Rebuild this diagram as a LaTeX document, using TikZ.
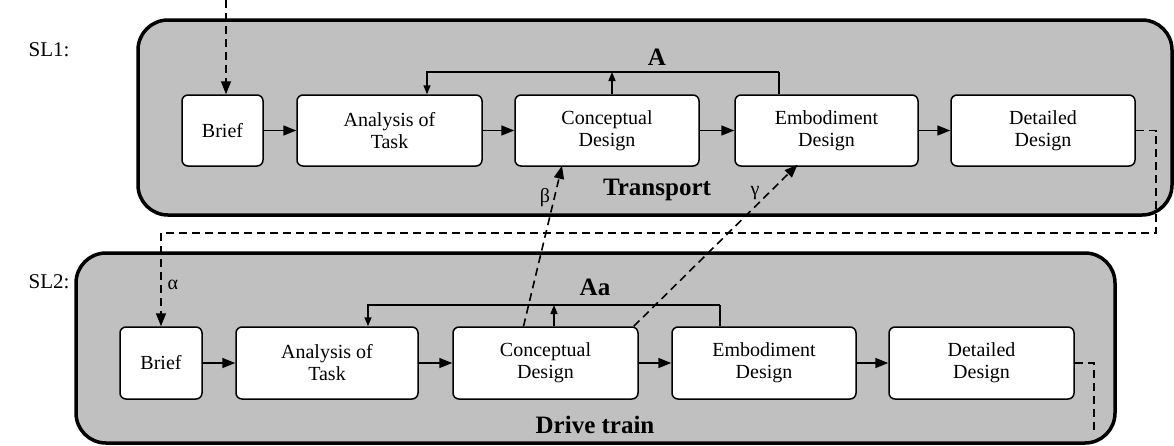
\documentclass[tikz,border=0pt]{standalone}
\usepackage{fontspec}
\setmainfont{Liberation Serif}
\usetikzlibrary{arrows.meta,calc}
\definecolor{panelgray}{RGB}{192,192,192}
\begin{document}
\begin{tikzpicture}[x=1pt,y=-1pt,
  panel/.style={draw=black,line width=3.5pt,fill=panelgray,rounded corners=30pt},
  stage/.style={draw=black,line width=1.5pt,fill=white,rounded corners=6pt,
    minimum height=71pt,inner sep=0pt,align=center,
    font=\fontsize{20}{22}\selectfont},
  flow/.style={line width=1.6pt,-{Triangle[length=13pt,width=10pt]}},
  fb/.style={line width=1.5pt},
  fbarrow/.style={line width=1.5pt,-{Triangle[length=9pt,width=7pt]}},
  dashline/.style={line width=1.6pt,dash pattern=on 8pt off 5pt},
  dasharrow/.style={dashline,-{Triangle[length=13pt,width=10pt]}},
  lvl/.style={font=\fontsize{21}{22}\selectfont},
  title/.style={font=\bfseries\fontsize{25}{26}\selectfont},
  greek/.style={font=\fontsize{20}{20}\selectfont}
]
\useasboundingbox (0,0) rectangle (1174,445);
% panels
\node[panel,minimum width=1034pt,minimum height=195pt] (p1) at (655,117.5) {};
\node[panel,minimum width=1039pt,minimum height=190pt] (p2) at (595.5,348) {};
% level labels
\node[lvl] (sl1) at (49,50) {SL1:};
\node[lvl] (sl2) at (49,282) {SL2:};
% top row
\node[stage,minimum width=81pt]  (b1) at (222.5,130.5) {Brief};
\node[stage,minimum width=185pt] (a1) at (389.5,130.5) {Analysis of\\Task};
\node[stage,minimum width=184pt] (c1) at (607,130.5) {Conceptual\\Design};
\node[stage,minimum width=183pt] (e1) at (826.5,130.5) {Embodiment\\Design};
\node[stage,minimum width=184pt] (d1) at (1043,130.5) {Detailed\\Design};
% bottom row
\node[stage,minimum width=82pt,minimum height=72pt]  (b2) at (161,363) {Brief};
\node[stage,minimum width=182pt,minimum height=72pt] (a2) at (327,363) {Analysis of\\Task};
\node[stage,minimum width=185pt,minimum height=72pt] (c2) at (545.5,363) {Conceptual\\Design};
\node[stage,minimum width=184pt,minimum height=72pt] (e2) at (764,363) {Embodiment\\Design};
\node[stage,minimum width=185pt,minimum height=72pt] (d2) at (981.5,363) {Detailed\\Design};
% titles
\node[title] (tA) at (657,57) {A};
\node[title] (tT) at (657,190) {Transport};
\node[title] (tAa) at (595,287) {Aa};
\node[title] (tD) at (595,425) {Drive train};
% flow arrows
\draw[flow] (b1) -- (a1);
\draw[flow] (a1) -- (c1);
\draw[flow] (c1) -- (e1);
\draw[flow] (e1) -- (d1);
\draw[flow] (b2) -- (a2);
\draw[flow] (a2) -- (c2);
\draw[flow] (c2) -- (e2);
\draw[flow] (e2) -- (d2);
% feedback loops
\coordinate (f1a) at (779,72);
\coordinate (f1b) at (427,72);
\coordinate (f1c) at (612,72);
\draw[fb] ([xshift=-47.5pt]e1.north) -- (f1a);
\draw[fbarrow] (f1a) -- (f1b) -- (f1b |- a1.north);
\draw[fbarrow] ([xshift=5pt]c1.north) -- (f1c);
\coordinate (f2a) at (720,305);
\coordinate (f2b) at (368,305);
\coordinate (f2c) at (554,305);
\draw[fb] ([xshift=-44pt]e2.north) -- (f2a);
\draw[fbarrow] (f2a) -- (f2b) -- (f2b |- a2.north);
\draw[fbarrow] ([xshift=8.5pt]c2.north) -- (f2c);
% dashed connections
\coordinate (in1) at (226,0);
\draw[dasharrow] (in1) -- (in1 |- b1.north);
\coordinate (r1) at (1156,130.5);
\coordinate (r2) at (1156,233);
\coordinate (r3) at (161,233);
\draw[dasharrow] (d1.east) -- (r1) -- (r2) -- (r3) -- (b2.north);
\node[greek,anchor=west] (alpha) at (164,285) {α};
\coordinate (s1) at (1094,363);
\coordinate (s2) at (1094,433);
\draw[dashline] (d2.east) -- (s1) -- (s2);
\draw[dasharrow] ([xshift=-22pt]c2.north) -- ([xshift=-45pt,yshift=1pt]c1.south);
\node[greek] (beta) at (545,198) {β};
\draw[dasharrow] ([xshift=-5pt]c2.north east) -- ([xshift=-29pt,yshift=2pt]e1.south);
\node[greek] (gamma) at (755,193) {γ};
\end{tikzpicture}
\end{document}
